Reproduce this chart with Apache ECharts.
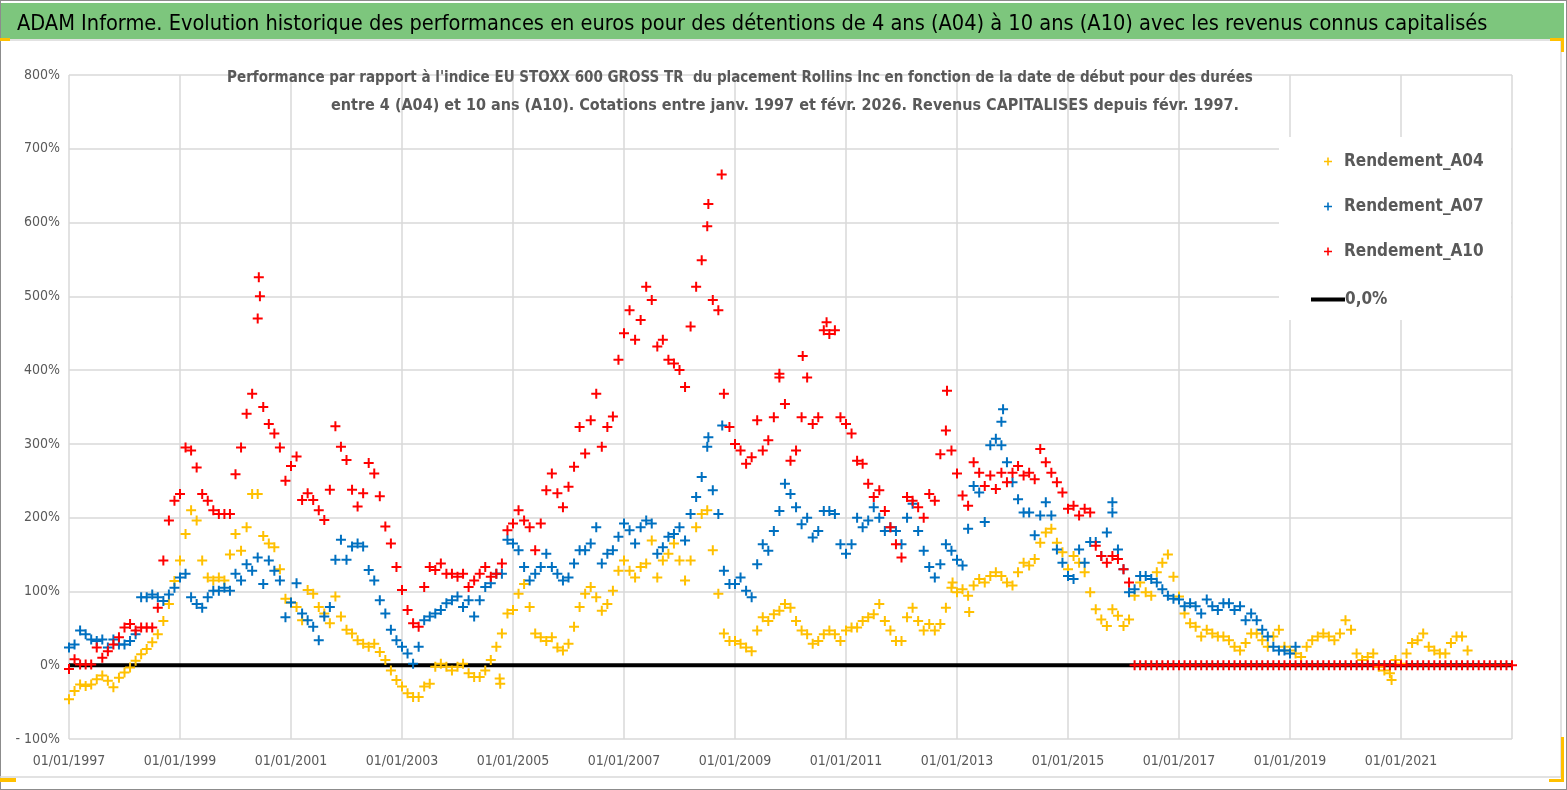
<!DOCTYPE html>
<html>
<head>
<meta charset="utf-8">
<script src="https://cdn.jsdelivr.net/npm/echarts@6/dist/echarts.min.js"></script>
<style>
html,body{margin:0;padding:0;background:#fff;}
#c{width:1567px;height:790px;}
</style>
</head>
<body>
<div id="c"></div>
<script>
const seriesNames = ['Rendement_A04', 'Rendement_A07', 'Rendement_A10'];
const zeroName = '0,0%';
const startYear = 1997.0;
const stepYear = 0.1;
const xTickYears = [1997, 1999, 2001, 2003, 2005, 2007, 2009, 2011, 2013, 2015, 2017, 2019, 2021];
const yTicks = [-100, 0, 100, 200, 300, 400, 500, 600, 700, 800];

const a04Values = [
  -46,-35,-26,-28,-26,-19,-14,-21,-30,-17,
  -10,-3,6,15,22,31,42,60,83,114,
  142,178,210,196,142,119,115,119,115,150,
  178,155,187,232,232,175,165,160,130,90,
  85,79,61,102,97,79,70,57,93,66,
  48,43,34,29,25,29,18,7,-7,-20,
  -29,-38,-43,-43,-29,-25,-2,2,-2,-7,
  -2,2,-11,-16,-16,-7,7,25,43,70,
  75,97,110,79,43,38,33,38,24,20,
  29,52,79,97,106,92,74,83,101,128,
  142,128,119,133,138,169,119,142,151,165,
  142,115,142,187,205,210,156,97,43,33,
  33,29,24,19,47,65,60,69,74,83,
  78,60,47,42,29,33,42,47,42,33,
  47,51,51,60,65,69,83,60,47,33,
  33,65,78,60,47,56,47,56,78,105,
  99,103,94,108,117,112,121,126,121,112,
  108,126,139,135,144,166,180,185,166,153,
  130,148,139,126,99,76,62,53,76,67,
  53,62,94,112,99,94,126,139,150,120,
  93,70,57,52,39,48,43,39,39,34,
  25,20,30,43,43,34,25,39,48,25,
  20,16,11,25,34,39,43,39,34,43,
  61,48,16,7,11,16,-2,-7,-11,7,
  2,16,30,34,43,25,20,16,16,30,
  39,39,20
];
const a04Extra = [[2020.83,-20],[2004.76,-18],[2004.77,-25],[2012.92,112],[2013.22,72]];

const a07Values = [
  24,28,47,42,35,33,35,24,35,28,
  28,33,42,92,92,96,92,87,96,105,
  119,124,92,83,78,92,101,101,105,101,
  124,115,137,128,146,110,142,128,115,65,
  85,111,70,61,52,34,66,79,143,170,
  143,161,165,161,129,115,88,70,48,34,
  25,16,2,25,61,66,70,75,84,88,
  93,79,88,66,88,106,111,124,124,170,
  165,156,133,115,124,133,151,133,124,115,
  119,138,156,156,165,187,138,151,156,174,
  192,183,165,187,196,192,151,160,174,178,
  187,169,205,228,255,296,237,205,128,110,
  110,119,101,92,137,164,155,182,209,246,
  232,214,191,200,173,182,209,209,205,164,
  151,164,200,187,196,214,200,182,187,182,
  164,200,219,182,155,133,119,137,164,155,
  143,135,185,243,234,194,298,307,298,275,
  248,225,207,207,176,203,221,203,157,139,
  121,117,157,139,167,167,148,180,207,157,
  130,99,103,121,121,117,112,103,94,90,
  89,80,84,80,70,89,80,75,84,84,
  75,80,61,70,61,48,39,25,20,20,
  16,25
];
const a07Extra = [[2013.83,347],[2013.8,330],[2015.8,221],[2008.77,325],[2008.52,309]];

const a10Values = [
  -5,8,1,1,1,24,10,19,28,38,
  51,56,47,51,51,51,78,142,196,223,
  232,295,291,268,232,223,210,205,205,205,
  259,295,341,368,470,350,327,314,295,250,
  270,283,224,233,224,210,197,238,324,296,
  278,238,215,233,274,260,229,188,165,133,
  102,75,57,52,106,133,129,138,124,124,
  120,124,106,115,124,133,120,124,138,183,
  192,210,196,187,156,192,237,260,233,214,
  242,269,323,287,332,368,296,323,337,414,
  450,481,441,468,513,495,432,441,414,409,
  400,377,459,513,549,595,495,481,368,323,
  300,291,273,282,332,291,305,336,390,354,
  277,291,336,390,327,336,454,449,454,336,
  327,314,277,273,246,228,237,209,187,164,
  146,228,223,214,200,232,223,286,318,291,
  260,230,216,275,261,243,257,239,261,248,
  261,270,257,261,252,293,275,261,248,234,
  212,216,203,212,207,162,148,139,148,144,
  130,112,0,0,0,0,0,0,0,0,
  0,0,0,0,0,0,0,0,0,0,
  0,0,0,0,0,0,0,0,0,0,
  0,0,0,0,0,0,0,0,0,0,
  0,0,0,0,0,0,0,0,0,0,
  0,0,0,0,0,0,0,0,0,0,
  0,0,0,0,0,0,0,0,0,0,
  0
];
const a10Extra = [[2000.42,526],[2000.44,500],[2008.76,665],[2008.52,625],[2012.82,372],[2010.22,419],[2009.8,395],[2010.65,465]];

const zeroLine = [[1997, 0], [2023, 0]];

// ---- build ----
function build(vals, extra) {
  return vals.map((v, i) => [+(startYear + i * stepYear).toFixed(2), v]).concat(extra);
}
const plus = 'path://M4,0h2v4h4v2h-4v4h-2v-4h-4v-2h4z';
const colors = ['#FFC000', '#0070C0', '#FF0000'];
const font = "'DejaVu Sans Condensed','Liberation Sans Narrow',sans-serif";

const chart = echarts.init(document.getElementById('c'), null, {renderer: 'canvas'});

function scatter(name, data, color) {
  return {
    name: name, type: 'scatter', data: data, symbol: plus, symbolSize: 10,
    itemStyle: {color: color, opacity: 1}, silent: true, animation: false
  };
}

chart.setOption({
  animation: false,
  backgroundColor: '#fff',
  title: [
    {text: 'ADAM Informe. Evolution historique des performances en euros pour des détentions de 4 ans (A04) à 10 ans (A10) avec les revenus connus capitalisés',
     left: 12, top: 8, textStyle: {fontFamily: font, fontSize: 21.6, fontWeight: 'normal', color: '#000'}},
    {text: "Performance par rapport à l'indice EU STOXX 600 GROSS TR  du placement Rollins Inc en fonction de la date de début pour des durées",
     left: 735, top: 66, textAlign: 'center', textStyle: {fontFamily: font, fontSize: 15, fontWeight: 'bold', color: '#595959'}},
    {text: "entre 4 (A04) et 10 ans (A10). Cotations entre janv. 1997 et févr. 2026. Revenus CAPITALISES depuis févr. 1997.",
     left: 780, top: 93, textAlign: 'center', textStyle: {fontFamily: font, fontSize: 16, fontWeight: 'bold', color: '#595959'}}
  ],
  graphic: [
    {type: 'rect', shape: {x: 0, y: 0, width: 1567, height: 790}, style: {fill: 'none', stroke: '#8c8c8c', lineWidth: 2}, z: 1},
    {type: 'rect', shape: {x: 1, y: 3, width: 1563, height: 36}, style: {fill: '#7DC67D'}, z: -1},
    {type: 'line', shape: {x1: 0, y1: 40, x2: 1561, y2: 40}, style: {stroke: '#d9d9d9', lineWidth: 1.5}, z: 1},
    {type: 'line', shape: {x1: 1561, y1: 40, x2: 1561, y2: 777}, style: {stroke: '#d9d9d9', lineWidth: 1.5}, z: 1},
    {type: 'line', shape: {x1: 0, y1: 777, x2: 1561, y2: 777}, style: {stroke: '#d9d9d9', lineWidth: 1.5}, z: 1},
    {type: 'rect', shape: {x: 0, y: 38, width: 10, height: 3}, style: {fill: '#FFC000'}, z: 2},
    {type: 'rect', shape: {x: 1550, y: 38, width: 14, height: 3}, style: {fill: '#FFC000'}, z: 2},
    {type: 'rect', shape: {x: 1561, y: 38, width: 3, height: 14}, style: {fill: '#FFC000'}, z: 2},
    {type: 'rect', shape: {x: 0, y: 778, width: 16, height: 4}, style: {fill: '#FFC000'}, z: 2},
    {type: 'rect', shape: {x: 1561, y: 737, width: 3, height: 45}, style: {fill: '#FFC000'}, z: 2},
    {type: 'rect', shape: {x: 1549, y: 779, width: 15, height: 3}, style: {fill: '#FFC000'}, z: 2},
    {type: 'rect', shape: {x: 1279, y: 137, width: 232, height: 183}, style: {fill: '#fff'}, z: 50}
  ],
  legend: [
    {data: seriesNames.map(n => ({name: n, icon: plus})), orient: 'vertical', left: 1319, top: 148,
     itemWidth: 8, itemHeight: 8, itemGap: 28, z: 100, selectedMode: false,
     textStyle: {fontFamily: font, fontSize: 17, fontWeight: 'bold', color: '#595959', padding: [0, 0, 0, 7]}},
    {data: [{name: zeroName, icon: 'rect'}], orient: 'vertical', left: 1306, top: 286,
     itemWidth: 34, itemHeight: 4, z: 100, selectedMode: false,
     textStyle: {fontFamily: font, fontSize: 17, fontWeight: 'bold', color: '#595959', padding: [0, 0, 0, -5]}}
  ],
  grid: {left: 69, right: 55, top: 75, bottom: 51, containLabel: false},
  xAxis: {
    type: 'value', min: 1997, max: 2023, interval: 2,
    axisLine: {show: false}, axisTick: {show: false},
    splitLine: {show: true, lineStyle: {color: '#d9d9d9', width: 1.5}},
    axisLabel: {
      margin: 15, color: '#595959', fontFamily: font, fontSize: 14,
      formatter: v => (xTickYears.indexOf(v) >= 0 ? '01/01/' + v : '')
    }
  },
  yAxis: {
    type: 'value', min: -100, max: 800, interval: 100,
    axisLine: {show: false}, axisTick: {show: false},
    splitLine: {show: true, lineStyle: {color: '#d9d9d9', width: 1.5}},
    axisLabel: {
      margin: 9, color: '#595959', fontFamily: font, fontSize: 14,
      formatter: v => (yTicks.indexOf(v) >= 0 ? (v < 0 ? '- ' + (-v) + '%' : v + '%') : '')
    }
  },
  series: [
    {name: zeroName, type: 'line', data: zeroLine, symbol: 'none', silent: true,
     lineStyle: {color: '#000', width: 4}, itemStyle: {color: '#000'}, z: 1},
    Object.assign(scatter(seriesNames[0], build(a04Values, a04Extra), colors[0]), {z: 2}),
    Object.assign(scatter(seriesNames[1], build(a07Values, a07Extra), colors[1]), {z: 3}),
    Object.assign(scatter(seriesNames[2], build(a10Values, a10Extra), colors[2]), {z: 4})
  ]
});
</script>
</body>
</html>
